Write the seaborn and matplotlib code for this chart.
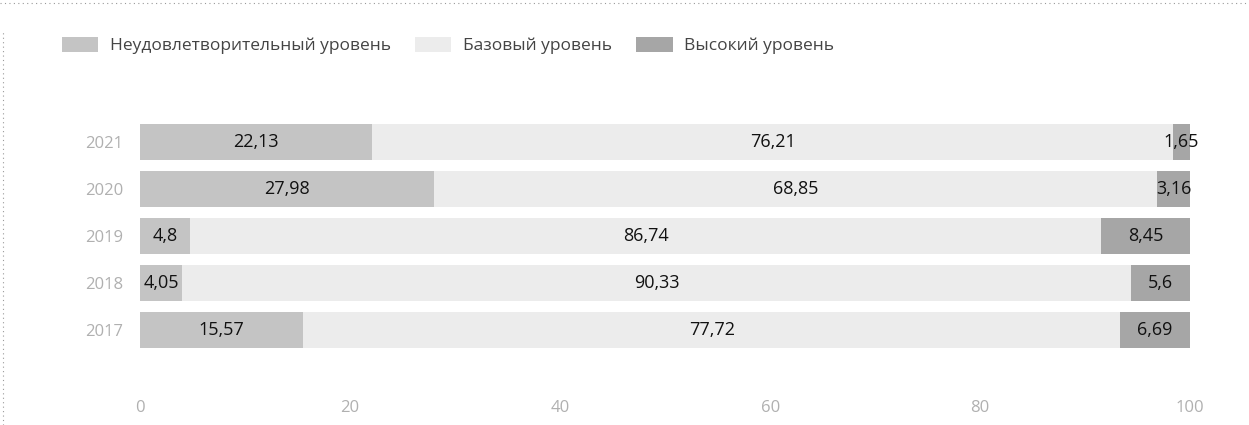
import matplotlib
matplotlib.use("Agg")
import matplotlib.pyplot as plt
import matplotlib.patches as mpatches
import seaborn as sns
import pandas as pd
import numpy as np

# Доли учащихся по уровням, %
years = ["2021", "2020", "2019", "2018", "2017"]
low = [22.13, 27.98, 4.8, 4.05, 15.57]
base = [76.21, 68.85, 86.74, 90.33, 77.72]
high = [1.65, 3.16, 8.45, 5.6, 6.69]
level_names = ["Неудовлетворительный уровень", "Базовый уровень", "Высокий уровень"]
x_ticks = [0, 20, 40, 60, 80, 100]

colors = ["#c4c4c4", "#ececec", "#a6a6a6"]

sns.set_theme(style="white")
plt.rcParams["font.family"] = ["Open Sans", "DejaVu Sans"]

df = pd.DataFrame({"year": years, "low": low, "base": base, "high": high})
df["cum1"] = df["low"]
df["cum2"] = df["low"] + df["base"]
df["cum3"] = df["low"] + df["base"] + df["high"]

fig = plt.figure(figsize=(12.49, 4.25), dpi=100)
ax = fig.add_axes([0.112, 0.082, 0.841, 0.683])

# Stacked bars drawn as overlapping cumulative totals
for col, color in zip(["cum3", "cum2", "cum1"], colors[::-1]):
    sns.barplot(data=df, y="year", x=col, order=years, color=color,
                width=0.77, saturation=1, ax=ax, edgecolor="none")

# Value labels at segment centres
for i in range(len(years)):
    starts = [0, df["cum1"][i], df["cum2"][i]]
    vals = [low[i], base[i], high[i]]
    for s, v in zip(starts, vals):
        ax.text(s + v / 2, i, f"{v:g}".replace(".", ","), ha="center", va="center",
                fontsize=13, color="#111111")

ax.set_xlim(0, 100)
ax.set_ylim(len(years) - 1 + 1.28, -0.9)
ax.set_xticks(x_ticks)
ax.set_xticklabels([str(t) for t in x_ticks], fontsize=12, color="#b0b0b0")
ax.tick_params(axis="x", pad=7, length=0)
ax.tick_params(axis="y", pad=12, length=0, labelsize=12, labelcolor="#b0b0b0")
ax.set_xlabel("")
ax.set_ylabel("")
for sp in ax.spines.values():
    sp.set_visible(False)

handles = [mpatches.Patch(facecolor=c, edgecolor="none", label=n)
           for c, n in zip(colors, level_names)]
fig.legend(handles=handles, loc="center left", bbox_to_anchor=(0.0496, 0.892),
           ncol=3, frameon=False, fontsize=12.5, handlelength=2.1, handleheight=0.9,
           columnspacing=1.4, handletextpad=0.65, borderpad=0, borderaxespad=0,
           labelcolor="#444444")

# Dotted frame lines along the top and left edge
fig.add_artist(plt.Line2D([0.0, 1.0], [0.993, 0.993], transform=fig.transFigure,
                          color="#9a9a9a", lw=0.8, ls=(0, (1, 3))))
fig.add_artist(plt.Line2D([0.0028, 0.0028], [0.0, 0.93], transform=fig.transFigure,
                          color="#9a9a9a", lw=0.8, ls=(0, (1, 3))))

fig.savefig("out.png", dpi=100)
